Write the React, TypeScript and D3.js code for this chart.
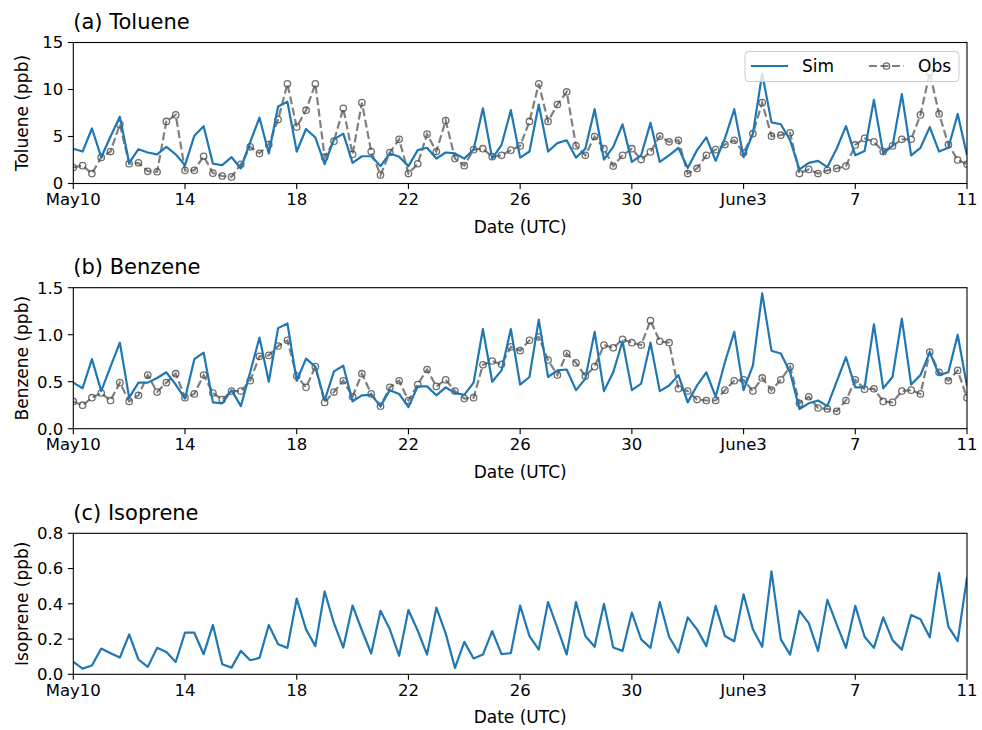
import React from 'react';
import * as d3 from 'd3';

// ---------- DATA (8-hourly, May 10 00 UTC -> June 11 00 UTC) ----------
const tickLabels = ['May10', '14', '18', '22', '26', '30', 'June3', '7', '11'];

const simToluene = [
  3.7, 3.4, 5.85, 2.8, 5.0, 7.1, 2.2, 3.65, 3.3, 3.1,
  3.9, 3.1, 1.95, 5.07, 6.1, 2.1, 1.95, 2.8, 1.6, 4.4,
  7.0, 3.2, 8.2, 8.7, 3.4, 5.8, 4.9, 2.05, 4.7, 5.3,
  2.2, 2.9, 2.9, 1.85, 3.2, 2.85, 1.85, 3.55, 3.8, 2.65,
  3.3, 3.2, 2.65, 3.6, 8.0, 2.65, 4.1, 7.8, 2.75, 3.4,
  8.4, 3.4, 4.3, 4.6, 2.75, 3.7, 7.9, 2.55, 3.9, 6.3,
  2.3, 3.0, 6.45, 2.3, 3.0, 3.8, 1.65, 3.55, 4.9, 2.4,
  4.8, 7.9, 2.8, 5.3, 11.7, 6.5, 6.3, 4.6, 1.5, 2.2,
  2.4, 1.75, 3.7, 6.1, 3.0, 3.45, 8.9, 3.2, 4.0, 9.5,
  3.0, 3.8, 6.0, 3.4, 3.8, 7.4, 3.0,
];
const obsToluene = [
  1.7, 1.9, 1.06, 2.77, 3.4, 6.3, 2.1, 2.2, 1.3, 1.25,
  6.6, 7.3, 1.4, 1.4, 2.9, 1.1, 0.8, 0.7, 2.05, 3.9,
  3.2, 4.15, 6.8, 10.6, 6.0, 7.8, 10.6, 2.8, 4.5, 8.0,
  3.1, 8.6, 3.4, 0.9, 3.3, 4.7, 1.06, 2.1, 5.25, 3.4,
  6.7, 2.65, 1.9, 3.6, 3.7, 2.85, 3.0, 3.55, 4.0, 6.6,
  10.6, 6.6, 8.4, 9.75, 4.0, 3.0, 5.0, 3.7, 1.85, 3.0,
  3.7, 2.55, 3.36, 5.03, 4.43, 4.6, 1.06, 1.6, 3.0, 3.6,
  4.15, 4.6, 3.26, 5.3, 8.6, 5.03, 5.14, 5.4, 1.06, 1.5,
  1.06, 1.4, 1.6, 1.85, 4.1, 4.8, 4.43, 3.4, 4.0, 4.7,
  4.7, 7.3, 11.8, 7.4, 4.15, 2.5, 2.05,
];
const simBenzene = [
  0.49, 0.43, 0.74, 0.40, 0.66, 0.915, 0.33, 0.49, 0.49, 0.54,
  0.60, 0.47, 0.32, 0.74, 0.81, 0.28, 0.27, 0.41, 0.24, 0.60,
  0.97, 0.50, 1.07, 1.12, 0.51, 0.745, 0.66, 0.30, 0.61, 0.67,
  0.29, 0.355, 0.36, 0.24, 0.41, 0.37, 0.23, 0.45, 0.45, 0.355,
  0.44, 0.38, 0.36, 0.49, 1.06, 0.50, 0.62, 1.06, 0.47, 0.55,
  1.16, 0.55, 0.62, 0.63, 0.41, 0.53, 1.03, 0.40, 0.60, 0.93,
  0.41, 0.48, 0.915, 0.40, 0.46, 0.57, 0.28, 0.46, 0.60, 0.34,
  0.71, 1.03, 0.41, 0.67, 1.44, 0.83, 0.80, 0.60, 0.21, 0.27,
  0.30, 0.24, 0.50, 0.76, 0.44, 0.44, 1.11, 0.43, 0.55, 1.17,
  0.47, 0.57, 0.815, 0.57, 0.60, 1.00, 0.45,
];
const obsBenzene = [
  0.29, 0.25, 0.33, 0.38, 0.30, 0.49, 0.29, 0.355, 0.57, 0.39,
  0.49, 0.585, 0.33, 0.37, 0.57, 0.38, 0.31, 0.40, 0.40, 0.51,
  0.77, 0.78, 0.88, 0.94, 0.56, 0.44, 0.66, 0.28, 0.39, 0.51,
  0.34, 0.585, 0.37, 0.24, 0.44, 0.51, 0.30, 0.47, 0.63, 0.45,
  0.52, 0.40, 0.32, 0.33, 0.68, 0.72, 0.685, 0.87, 0.83, 0.94,
  0.975, 0.73, 0.57, 0.80, 0.70, 0.56, 0.66, 0.89, 0.86, 0.95,
  0.915, 0.89, 1.15, 0.93, 0.915, 0.425, 0.40, 0.31, 0.30, 0.30,
  0.41, 0.51, 0.52, 0.40, 0.54, 0.41, 0.52, 0.66, 0.27, 0.34,
  0.22, 0.21, 0.185, 0.30, 0.52, 0.42, 0.425, 0.29, 0.28, 0.40,
  0.41, 0.37, 0.815, 0.60, 0.51, 0.62, 0.33,
];
const simIsoprene = [
  0.07, 0.032, 0.05, 0.146, 0.12, 0.095, 0.226, 0.084, 0.042, 0.15,
  0.127, 0.07, 0.236, 0.236, 0.114, 0.28, 0.057, 0.038, 0.133, 0.08,
  0.093, 0.28, 0.17, 0.15, 0.43, 0.255, 0.16, 0.47, 0.29, 0.152,
  0.39, 0.25, 0.118, 0.36, 0.255, 0.105, 0.365, 0.247, 0.112, 0.378,
  0.232, 0.036, 0.184, 0.09, 0.112, 0.245, 0.114, 0.12, 0.39, 0.217,
  0.14, 0.41, 0.264, 0.112, 0.41, 0.217, 0.156, 0.40, 0.152, 0.133,
  0.35, 0.198, 0.15, 0.41, 0.213, 0.124, 0.323, 0.255, 0.16, 0.388,
  0.217, 0.188, 0.454, 0.255, 0.156, 0.584, 0.198, 0.112, 0.36, 0.29,
  0.133, 0.422, 0.283, 0.15, 0.388, 0.213, 0.15, 0.323, 0.194, 0.14,
  0.336, 0.312, 0.21, 0.574, 0.27, 0.188, 0.55,
];

const yTicksToluene = [0, 5, 10, 15];
const yTicksBenzene = [0, 0.5, 1.0, 1.5];
const yTicksIsoprene = [0, 0.2, 0.4, 0.6, 0.8];

// ---------- LAYOUT ----------
const W = 982;
const H = 730;
const LEFT = 73.3;
const RIGHT = 967;
const PH = 141;
const FONT = 'DejaVu Sans, sans-serif';
const SIM_COLOR = '#1f77b4';
const OBS_COLOR = '#7f7f7f';

const start = new Date(Date.UTC(2023, 4, 10));
const end = new Date(Date.UTC(2023, 5, 11));
const times = d3.range(simToluene.length).map((i) => d3.utcHour.offset(start, 8 * i));
const tickDates = tickLabels.map((_, k) => d3.utcDay.offset(start, 4 * k));

const x = d3.scaleUtc().domain([start, end]).range([LEFT, RIGHT]);

type Panel = {
  id: string;
  top: number;
  title: string;
  ylabel: string;
  ymax: number;
  yTicks: number[];
  fmt: (v: number) => string;
  sim: number[];
  obs?: number[];
  legend?: boolean;
};

const panels: Panel[] = [
  { id: 'a', top: 42.5, title: '(a) Toluene', ylabel: 'Toluene (ppb)', ymax: 15, yTicks: yTicksToluene, fmt: (v) => d3.format('d')(v), sim: simToluene, obs: obsToluene, legend: true },
  { id: 'b', top: 287.7, title: '(b) Benzene', ylabel: 'Benzene (ppb)', ymax: 1.5, yTicks: yTicksBenzene, fmt: (v) => d3.format('.1f')(v), sim: simBenzene, obs: obsBenzene },
  { id: 'c', top: 533.3, title: '(c) Isoprene', ylabel: 'Isoprene (ppb)', ymax: 0.8, yTicks: yTicksIsoprene, fmt: (v) => d3.format('.1f')(v), sim: simIsoprene },
];

function PanelView({ p }: { p: Panel }) {
  const bottom = p.top + PH;
  const y = d3.scaleLinear().domain([0, p.ymax]).range([bottom, p.top]);
  const line = d3
    .line<number>()
    .x((_, i) => x(times[i]))
    .y((d) => y(d));
  const clipId = `clip-${p.id}`;
  return (
    <g>
      <defs>
        <clipPath id={clipId}>
          <rect x={LEFT} y={p.top} width={RIGHT - LEFT} height={PH} />
        </clipPath>
      </defs>
      <text x={LEFT} y={p.top - 13.5} fontSize={21} fontFamily={FONT} fill="#000">
        {p.title}
      </text>
      <g clipPath={`url(#${clipId})`}>
        {p.obs && (
          <g>
            <path d={line(p.obs) || ''} fill="none" stroke={OBS_COLOR} strokeWidth={2.2} strokeDasharray="8,3.5" />
            {p.obs.map((v, i) => (
              <circle key={i} cx={x(times[i])} cy={y(v)} r={3.2} fill="none" stroke="#4a4a4a" strokeOpacity={0.8} strokeWidth={1.3} />
            ))}
          </g>
        )}
        <path d={line(p.sim) || ''} fill="none" stroke={SIM_COLOR} strokeWidth={2.2} strokeLinejoin="round" />
      </g>
      {/* frame */}
      <rect x={LEFT} y={p.top} width={RIGHT - LEFT} height={PH} fill="none" stroke="#000" strokeWidth={1.1} />
      {/* y ticks */}
      {p.yTicks.map((t) => (
        <g key={t}>
          <line x1={LEFT - 5.5} x2={LEFT} y1={y(t)} y2={y(t)} stroke="#000" strokeWidth={1.1} />
          <text x={LEFT - 10} y={y(t)} dy="0.36em" textAnchor="end" fontSize={16.5} fontFamily={FONT} fill="#000">
            {p.fmt(t)}
          </text>
        </g>
      ))}
      {/* x ticks */}
      {tickDates.map((d, k) => (
        <g key={k}>
          <line x1={x(d)} x2={x(d)} y1={bottom} y2={bottom + 5.5} stroke="#000" strokeWidth={1.1} />
          <text x={x(d)} y={bottom + 21.5} textAnchor="middle" fontSize={16.5} fontFamily={FONT} fill="#000">
            {tickLabels[k]}
          </text>
        </g>
      ))}
      <text x={(LEFT + RIGHT) / 2} y={bottom + 49} textAnchor="middle" fontSize={17} fontFamily={FONT} fill="#000">
        Date (UTC)
      </text>
      <text
        transform={`translate(28, ${(p.top + bottom) / 2}) rotate(-90)`}
        textAnchor="middle"
        fontSize={17}
        fontFamily={FONT}
        fill="#000"
      >
        {p.ylabel}
      </text>
      {p.legend && (
        <g>
          <rect x={745} y={51.5} width={214} height={30} rx={4} fill="#fff" fillOpacity={0.8} stroke="#ccc" strokeWidth={1} />
          <line x1={751} x2={788} y1={66} y2={66} stroke={SIM_COLOR} strokeWidth={2.2} />
          <text x={802} y={66} dy="0.36em" fontSize={17} fontFamily={FONT} fill="#000">Sim</text>
          <line x1={869} x2={904} y1={66} y2={66} stroke={OBS_COLOR} strokeWidth={2.2} strokeDasharray="8,3.5" />
          <circle cx={886.5} cy={66} r={3.2} fill="none" stroke="#4a4a4a" strokeOpacity={0.8} strokeWidth={1.3} />
          <text x={918} y={66} dy="0.36em" fontSize={17} fontFamily={FONT} fill="#000">Obs</text>
        </g>
      )}
    </g>
  );
}

export default function App() {
  return (
    <svg width={W} height={H} style={{ position: 'absolute', left: 0, top: 0, background: '#fff' }}>
      <rect width={W} height={H} fill="#fff" />
      {panels.map((p) => (
        <PanelView key={p.id} p={p} />
      ))}
    </svg>
  );
}
